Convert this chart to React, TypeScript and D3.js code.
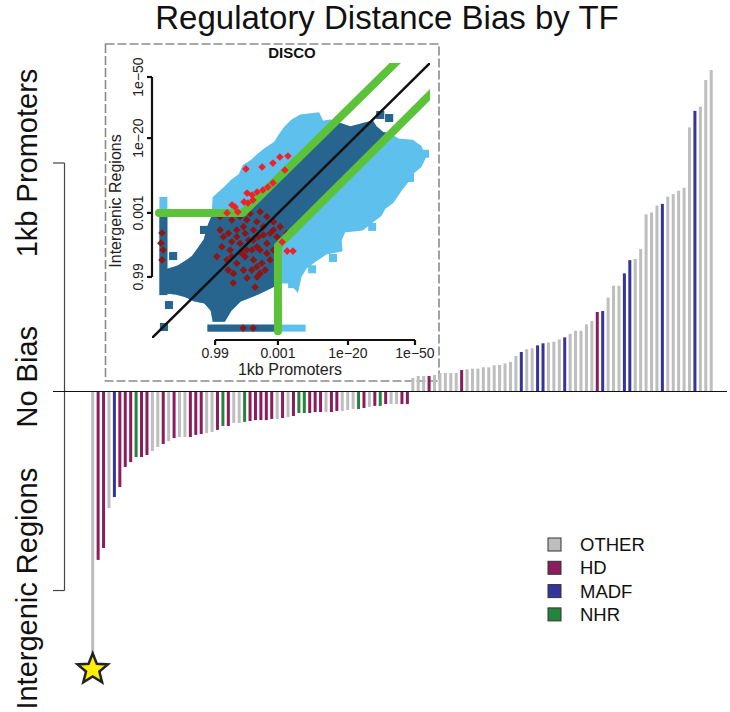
import React from "react";
import * as d3 from "d3";

// ---------- main chart data ----------
const FAMILY_NAMES: Record<string, string> = { O: "OTHER", H: "HD", M: "MADF", N: "NHR" };
const familyColors: Record<string, string> = {
  OTHER: "#bebebe",
  HD: "#8b1c5e",
  MADF: "#35349a",
  NHR: "#25843a",
};
const legendItems = ["OTHER", "HD", "MADF", "NHR"];

// bias toward intergenic regions (negative) sorted, then toward promoters (positive)
const negFamilyCodes = ["OHHOMHHHNH", "HOOHOHOOHH", "HOOHNHOONH", "HHHHOHOHNN", "HHHOHHOOON", "HOHNHOOHH"];
const posFamilyCodes = ["OOOHOOOOOH", "OOOOOOOOOO", "MOOMMOOOMO", "OOOOHMOOOM", "MOOOOOMOOO", "OOMOOO"];

const negValues = [
  -121.6, -73.7, -68.5, -51.0, -46.2, -41.8, -33.0, -30.9, -28.7, -28.7,
  -27.8, -26.0, -24.3, -23.0, -21.7, -20.4, -19.9, -19.9, -19.9, -19.0,
  -18.6, -18.2, -17.7, -16.8, -15.1, -15.1, -13.8, -13.8, -13.3, -12.9,
  -12.5, -12.5, -12.5, -12.0, -12.0, -11.6, -11.2, -10.7, -9.4, -9.4,
  -9.4, -9.0, -9.0, -9.0, -9.0, -8.5, -8.5, -8.1, -7.7, -7.7,
  -7.2, -6.8, -6.3, -6.3, -5.5, -5.5, -5.5, -5.5, -5.5,
];
const posValues = [
  5.9, 6.8, 6.8, 6.8, 7.2, 8.1, 8.1, 8.1, 8.1, 9.4,
  9.7, 10.0, 10.0, 10.6, 10.6, 11.5, 11.6, 12.3, 13.0, 15.5,
  17.3, 18.5, 18.9, 20.2, 21.1, 21.5, 21.8, 22.8, 23.7, 25.2,
  26.6, 26.6, 29.4, 30.9, 34.8, 35.2, 41.1, 46.3, 46.3, 51.7,
  57.5, 58.0, 62.4, 77.5, 78.4, 81.3, 82.1, 85.3, 86.4, 87.9,
  89.2, 115.6, 122.8, 124.6, 136.3, 140.7,
];
const starIndex = 0; // highlighted TF (DISCO)

// side axis bracket
const bracketTop = 100;
const bracketBottom = -87.1;
const sideLabels = ["1kb Promoters", "No Bias", "Intergenic Regions"];

// ---------- inset (DISCO scatter) data, transformed p-value units ----------
const insetXTicks = [
  { label: "0.99", v: 22.7 },
  { label: "0.001", v: 45.3 },
  { label: "1e\u221220", v: 70.5 },
  { label: "1e\u221250", v: 94.6 },
];
const insetYTicks = [
  { label: "0.99", v: 22.2 },
  { label: "0.001", v: 45.5 },
  { label: "1e\u221220", v: 72.7 },
  { label: "1e\u221250", v: 94.9 },
];
const diagonal: [number, number][] = [[0, 0], [100, 100]];
const upperCutoff: [number, number][] = [[2.5, 45.5], [32.7, 45.5], [90, 102.5]];
const lowerCutoff: [number, number][] = [[45.3, 2.5], [45.3, 33.5], [102, 90.5]];

const cloudOutline: [number, number][] = [
  [53.3, 80.7], [59.8, 81.5], [61.2, 78.5], [64.1, 78.9], [71.3, 76.4], [76.7, 77.8], [79.2, 78.5],
  [80.3, 76.7], [82.8, 74.5], [85.7, 73.8], [88.6, 72.0], [93.6, 71.6], [96.5, 69.5], [97.9, 65.5],
  [96.5, 62.5], [94.0, 60.4], [92.2, 57.5], [89.3, 53.8], [86.4, 49.5], [83.5, 47.3], [82.1, 44.7],
  [79.2, 42.5], [75.6, 39.6], [69.1, 38.9], [67.7, 35.6], [68.0, 32.0], [62.6, 30.9], [58.3, 28.0],
  [55.1, 25.5], [53.3, 22.5], [52.2, 17.5], [49.7, 20.4], [46.1, 20.4], [42.5, 18.5], [38.2, 16.4],
  [31.7, 13.8], [28.1, 10.2], [25.9, 6.5], [22.3, 6.5], [21.6, 10.2], [19.1, 13.1], [15.5, 13.8],
  [12.2, 15.3], [8.3, 16.4], [5.8, 16.7], [5.8, 24.7], [9.4, 25.8], [12.2, 27.6], [14.8, 29.5],
  [16.9, 32.4], [19.1, 35.6], [20.5, 40.7], [22.0, 44.4], [22.3, 50.9], [25.9, 54.2], [28.8, 57.1],
  [31.7, 59.3], [33.1, 62.5], [36.0, 64.4], [38.2, 66.5], [41.0, 68.7], [44.3, 70.9], [46.1, 73.8],
  [47.9, 76.4], [50.4, 78.9],
];
const cappedColumn = { x: 4.1, y0: 16.7, y1: 50.2 }; // promoter p = 1
const cappedRow = { y: 3.6, x0: 21.2, x1: 54.0 }; // intergenic p = 1
const isolatedPoints: [number, number][] = [
  [18.7, 39.3], [7.6, 29.8], [6.1, 12.0], [4.3, 4.0], [79.2, 40.4], [50.4, 19.6], [82.1, 81.1], [85.3, 80.0],
  [92.8, 58.2], [65.1, 29.1], [57.6, 25.0], [98.2, 67.0],
];
const hdPoints: [number, number][] = [
  [3.6, 38.2], [3.2, 34.5], [4.0, 32.0], [3.6, 28.4], [32.8, 3.6], [36.4, 3.6], [29.2, 20.0], [37.1, 18.5],
  [27.4, 24.7], [34.2, 21.8], [37.8, 22.2],
  [25.7, 45.3], [28.7, 42.9], [31.7, 44.1], [35.3, 45.3], [38.9, 45.9], [41.3, 44.1], [43.7, 42.3],
  [46.1, 40.5], [48.5, 38.1], [46.7, 35.6],
  [24.5, 39.3], [27.5, 38.1], [30.5, 39.3], [32.9, 40.5], [36.5, 39.3], [40.1, 40.5], [42.5, 38.1], [44.9, 36.8],
  [25.1, 33.2], [28.1, 32.0], [31.7, 34.4], [34.7, 35.6], [37.7, 33.2], [41.3, 34.4], [43.7, 32.0],
  [26.9, 28.4], [30.5, 27.2], [33.5, 29.6], [36.5, 28.4], [39.5, 27.2], [42.5, 28.4],
  [29.3, 23.5], [32.9, 24.7], [35.9, 24.7], [38.9, 23.5],
  [25.7, 36.8], [23.3, 29.6], [34.1, 32.0], [38.3, 36.8], [28.7, 35.0], [32.3, 30.8], [35.9, 32.0], [41.3, 30.8],
  [33.5, 38.1], [38.9, 32.0], [36.5, 35.6], [30.5, 36.8], [43.7, 39.3], [40.1, 37.5], [34.1, 42.9], [37.7, 42.3],
  [28.7, 29.6], [37.7, 25.9], [40.7, 24.7], [24.5, 44.1],
];
const biasedPoints: [number, number][] = [
  [46.0, 65.8], [48.9, 66.2], [33.8, 61.5], [39.6, 62.2], [43.5, 63.6], [47.8, 61.1], [43.5, 56.4],
  [41.7, 54.9], [39.9, 53.8], [37.8, 53.1], [36.0, 52.0], [34.2, 52.7], [33.1, 49.5], [34.5, 49.1],
  [36.3, 50.2], [28.8, 48.4], [29.9, 47.6], [27.0, 45.5], [30.9, 45.8], [46.8, 34.9], [48.6, 31.6], [50.7, 31.6],
];

const FONT = "'Liberation Sans', Arial, Helvetica, sans-serif";
const LIGHT = "#5ec1ed";
const DARK = "#27658f";
const GREEN = "#5cc23a";
const DARKRED = "#8e1616";
const RED = "#ee2228";

function extend(p: [number, number][], to: number): [number, number][] {
  const a = p[p.length - 2], b = p[p.length - 1];
  const s = (b[1] - a[1]) / (b[0] - a[0]);
  return [...p, [to, b[1] + s * (to - b[0])]];
}

function starPath(cx: number, cy: number, ro: number, ri: number) {
  const pts: string[] = [];
  for (let i = 0; i < 10; i++) {
    const r = i % 2 === 0 ? ro : ri;
    const a = -Math.PI / 2 + (i * Math.PI) / 5;
    pts.push(`${cx + r * Math.cos(a)},${cy + r * Math.sin(a)}`);
  }
  return "M" + pts.join("L") + "Z";
}

export default function App() {
  const W = 730, H = 712;
  const values = [...negValues, ...posValues];
  const families = [...negFamilyCodes, ...posFamilyCodes].join("").split("").map((c) => FAMILY_NAMES[c]);
  const idx = d3.range(values.length);

  const x = d3.scalePoint<number>().domain(idx).range([92.7, 711.2]);
  const y = d3.scaleLinear().domain([0, 100]).range([391.5, 163]);
  const barW = 3;

  // inset scales
  const ix = d3.scaleLinear().domain([0, 100]).range([152, 430]);
  const iy = d3.scaleLinear().domain([0, 100]).range([338, 63]);
  const ln = d3.line<[number, number]>().x((d) => ix(d[0])).y((d) => iy(d[1]));

  const up = extend(upperCutoff, 130);
  const lo = extend(lowerCutoff, 130);
  const band: [number, number][] = [
    [-20, -20], [-20, up[0][1]], ...up.slice(1), ...lo.slice(1).reverse(), [lo[0][0], -20],
  ];

  const diamond = (r: number) => `M0,${-r}L${r},0L0,${r}L${-r},0Z`;

  const cloud = (fill: string) => (
    <g fill={fill}>
      <path d={ln(cloudOutline) + "Z"} stroke={fill} strokeWidth={3} strokeLinejoin="miter" />
      <rect x={ix(cappedColumn.x) - 4} y={iy(cappedColumn.y1) - 3} width={8}
        height={iy(cappedColumn.y0) - iy(cappedColumn.y1) + 6} />
      <rect x={ix(cappedRow.x0) - 3.5} y={iy(cappedRow.y) - 3.5}
        width={ix(cappedRow.x1) - ix(cappedRow.x0) + 7} height={7} />
      {isolatedPoints.map((p, i) => (
        <rect key={i} x={ix(p[0]) - 4} y={iy(p[1]) - 4} width={8} height={8} />
      ))}
    </g>
  );

  const yMid = (bracketTop + bracketBottom) / 2;
  const labelYs = [bracketTop, yMid, bracketBottom + 0.8];

  return (
    <svg width={W} height={H} style={{ position: "absolute", left: 0, top: 0, background: "#fff" }}
      fontFamily={FONT}>
      <defs>
        <clipPath id="plotClip">
          <rect x={ix(0)} y={iy(100)} width={ix(100) - ix(0)} height={iy(0) - iy(100)} />
        </clipPath>
        <clipPath id="bandClip">
          <path d={ln(band) + "Z"} />
        </clipPath>
      </defs>

      {/* title */}
      <text x={387} y={29} textAnchor="middle" fontSize={33} fill="#111">
        Regulatory Distance Bias by TF
      </text>

      {/* side bracket axis */}
      <g stroke="#444" strokeWidth={1.2} fill="none">
        <line x1={64.5} x2={64.5} y1={y(bracketTop)} y2={y(bracketBottom)} />
        <line x1={53} x2={64.5} y1={y(bracketTop)} y2={y(bracketTop)} />
        <line x1={53} x2={64.5} y1={y(bracketBottom)} y2={y(bracketBottom)} />
      </g>
      {sideLabels.map((s, i) => (
        <text key={s} transform={`translate(37,${y(labelYs[i])}) rotate(-90)`} textAnchor="middle"
          fontSize={29} fill="#111">{s}</text>
      ))}

      {/* inset */}
      <g>
        <rect x={105.5} y={44} width={333.5} height={337} fill="#fff" stroke="#8a8a8a"
          strokeWidth={1.6} strokeDasharray="9,3" />
        <text x={292} y={58} textAnchor="middle" fontSize={15} fontWeight="bold" fill="#111">DISCO</text>
        <g clipPath="url(#plotClip)">
          {cloud(LIGHT)}
          <g clipPath="url(#bandClip)">{cloud(DARK)}</g>
          {hdPoints.map((p, i) => (
            <path key={i} transform={`translate(${ix(p[0])},${iy(p[1])})`} d={diamond(3.8)} fill={DARKRED} />
          ))}
          <path d={ln(diagonal)!} stroke="#111" strokeWidth={2.5} fill="none" />
          <path d={ln(upperCutoff)!} stroke={GREEN} strokeWidth={8} fill="none" strokeLinecap="round" strokeLinejoin="round" />
          <path d={ln(lowerCutoff)!} stroke={GREEN} strokeWidth={8} fill="none" strokeLinecap="round" strokeLinejoin="round" />
          {biasedPoints.map((p, i) => (
            <path key={i} transform={`translate(${ix(p[0])},${iy(p[1])})`} d={diamond(3.8)} fill={RED} />
          ))}
        </g>
        {/* inset x axis */}
        <g>
          <line x1={ix(insetXTicks[0].v)} x2={ix(insetXTicks[3].v)} y1={340} y2={340} stroke="#111" strokeWidth={2.2} />
          {insetXTicks.map((t) => (
            <g key={t.label}>
              <line x1={ix(t.v)} x2={ix(t.v)} y1={340} y2={345} stroke="#111" strokeWidth={2.2} />
              <text x={ix(t.v)} y={358} textAnchor="middle" fontSize={14} fill="#222">{t.label}</text>
            </g>
          ))}
          <text x={290} y={375} textAnchor="middle" fontSize={16} fill="#222">1kb Promoters</text>
        </g>
        {/* inset y axis */}
        <g>
          <line x1={152} x2={152} y1={iy(insetYTicks[0].v)} y2={iy(insetYTicks[3].v)} stroke="#111" strokeWidth={2.2} />
          {insetYTicks.map((t) => (
            <g key={t.label}>
              <line x1={147} x2={152} y1={iy(t.v)} y2={iy(t.v)} stroke="#111" strokeWidth={2.2} />
              <text transform={`translate(143,${iy(t.v)}) rotate(-90)`} textAnchor="middle" fontSize={14} fill="#222">
                {t.label}
              </text>
            </g>
          ))}
          <text transform={`translate(121,201) rotate(-90)`} textAnchor="middle" fontSize={16} fill="#222">
            Intergenic Regions
          </text>
        </g>
      </g>

      {/* bars */}
      <g>
        {values.map((v, i) => (
          <rect key={i} x={x(i)! - barW / 2} width={barW} y={y(Math.max(0, v))}
            height={Math.abs(y(v) - y(0))} fill={familyColors[families[i]]} />
        ))}
      </g>
      <line x1={53} x2={727} y1={y(0)} y2={y(0)} stroke="#111" strokeWidth={1.2} />

      {/* star marking DISCO */}
      <path d={starPath(x(starIndex)!, y(values[starIndex]), 16, 7)} fill="#ffee00" stroke="#222" strokeWidth={2.5}
        strokeLinejoin="miter" />

      {/* legend */}
      {legendItems.map((f, i) => (
        <g key={f} transform={`translate(548,${544.5 + i * 23.3})`}>
          <rect x={0} y={-6.5} width={13} height={13} fill={familyColors[f]} stroke="#333" strokeWidth={1} />
          <text x={32} y={6.5} fontSize={18.5} fill="#111">{f}</text>
        </g>
      ))}
    </svg>
  );
}
